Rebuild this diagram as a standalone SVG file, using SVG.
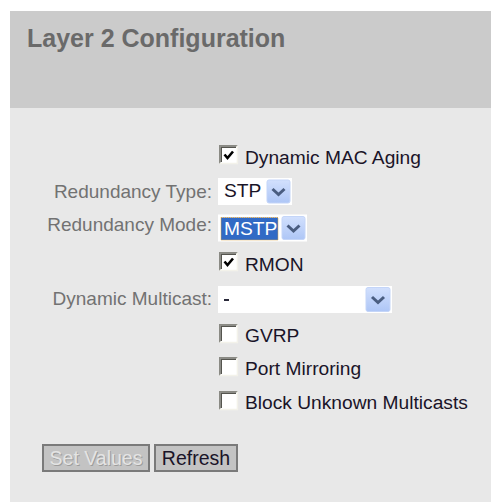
<svg xmlns="http://www.w3.org/2000/svg" width="491" height="503" viewBox="0 0 491 503">
  <defs>
    <linearGradient id="btnGrad" x1="0" y1="0" x2="0" y2="1">
      <stop offset="0" stop-color="#d2e0fd"/>
      <stop offset="1" stop-color="#aec6f6"/>
    </linearGradient>
    <path id="chev" d="M-6,-2.5 L0,3 L6,-2.5" fill="none" stroke="#4a5d80" stroke-width="3" stroke-linejoin="miter"/>
    <g id="cbox">
      <rect x="0" y="0" width="19" height="19" fill="#ffffff"/>
      <path d="M0.75,18.5 V0.75 H18.5" fill="none" stroke="#8a8a84" stroke-width="1.5"/>
      <path d="M2.25,17 V2.25 H17" fill="none" stroke="#55554f" stroke-width="1.5"/>
      <path d="M0.75,18.4 H18.4 V0.75" fill="none" stroke="#f3f2ea" stroke-width="1.5"/>
    </g>
    <path id="tick" d="M5.5,9.5 L8.5,13 L14,6.5" fill="none" stroke="#000000" stroke-width="2.6"/>
  </defs>
  <style>
    .label { font-family: "Liberation Sans", Arial, sans-serif; font-size: 19px; fill: #727272; text-anchor: end; }
    .opt { font-family: "Liberation Sans", Arial, sans-serif; font-size: 19.2px; fill: #1a1428; }
    .title { font-family: "Liberation Sans", Arial, sans-serif; font-size: 25px; font-weight: bold; fill: #6a6a6a; }
    .field { fill: #ffffff; }
    .drop { fill: url(#btnGrad); stroke: #c4d5f8; stroke-width: 1; }
    .button { fill: #c3c3c3; stroke: #7a7a7a; stroke-width: 2; }
    .btntext { font-family: "Liberation Sans", Arial, sans-serif; font-size: 19.5px; text-anchor: middle; }
  </style>

  <!-- page background -->
  <rect x="0" y="0" width="491" height="503" fill="#ffffff"/>

  <!-- header band -->
  <g id="header">
    <rect x="10" y="11" width="481" height="97" fill="#cbcbcb"/>
    <text class="title" x="27" y="46.5">Layer 2 Configuration</text>
  </g>

  <!-- form panel -->
  <rect x="10" y="108" width="481" height="394" fill="#e8e8e8"/>

  <g id="dynamic-mac-aging">
    <use href="#cbox" x="219" y="145"/>
    <use href="#tick" x="219" y="145"/>
    <text class="opt" x="245" y="164">Dynamic MAC Aging</text>
  </g>

  <g id="redundancy-type">
    <text class="label" x="212" y="198">Redundancy Type:</text>
    <rect class="field" x="218" y="178" width="74" height="27"/>
    <text class="opt" x="224" y="197">STP</text>
    <rect class="drop" x="267" y="180" width="23" height="23" rx="2"/>
    <use href="#chev" x="278.5" y="191.5"/>
  </g>

  <g id="redundancy-mode">
    <text class="label" x="212" y="231">Redundancy Mode:</text>
    <rect class="field" x="218" y="214.5" width="89" height="27"/>
    <rect x="221" y="217.5" width="57" height="22.5" fill="#316ac5" stroke="#e0a848" stroke-width="1" stroke-dasharray="1 1"/>
    <text class="opt" x="224" y="235" style="fill:#ffffff">MSTP</text>
    <rect class="drop" x="282" y="216.5" width="23" height="23" rx="2"/>
    <use href="#chev" x="293.5" y="228"/>
  </g>

  <g id="rmon">
    <use href="#cbox" x="219" y="252"/>
    <use href="#tick" x="219" y="252"/>
    <text class="opt" x="245" y="271">RMON</text>
  </g>

  <g id="dynamic-multicast">
    <text class="label" x="212" y="305">Dynamic Multicast:</text>
    <rect class="field" x="218" y="286" width="174" height="27"/>
    <rect x="224" y="299" width="5" height="2" fill="#2a2a3a"/>
    <rect class="drop" x="366" y="287.5" width="24" height="24" rx="2"/>
    <use href="#chev" x="378" y="299.5"/>
  </g>

  <g id="gvrp">
    <use href="#cbox" x="219" y="324"/>
    <text class="opt" x="245" y="342">GVRP</text>
  </g>

  <g id="port-mirroring">
    <use href="#cbox" x="219" y="357"/>
    <text class="opt" x="245" y="375">Port Mirroring</text>
  </g>

  <g id="block-unknown-multicasts">
    <use href="#cbox" x="219" y="391"/>
    <text class="opt" x="245" y="408.5">Block Unknown Multicasts</text>
  </g>

  <g id="set-values">
    <rect class="button" x="43" y="445" width="106" height="26"/>
    <!-- disabled caption: embossed light text -->
    <text class="btntext" x="97" y="466" fill="#9c9c9c">Set Values</text>
    <text class="btntext" x="96" y="465" fill="#e4e4e4">Set Values</text>
  </g>

  <g id="refresh">
    <rect class="button" x="155" y="445" width="82" height="26"/>
    <text class="btntext" x="196" y="465" fill="#1a1428">Refresh</text>
  </g>
</svg>
